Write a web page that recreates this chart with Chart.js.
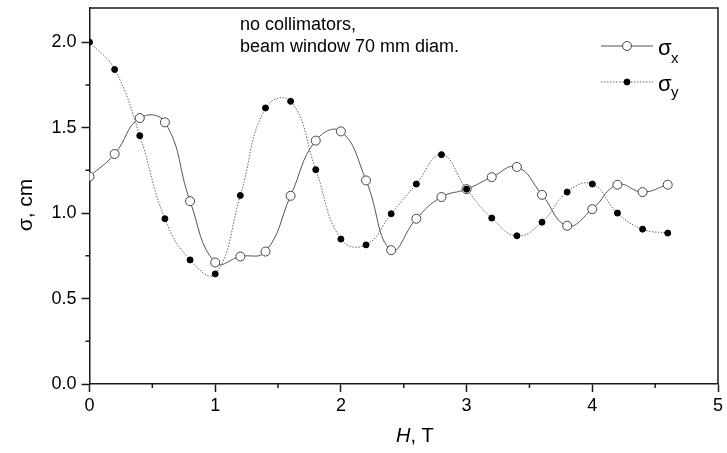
<!DOCTYPE html>
<html>
<head>
<meta charset="utf-8">
<script src="https://cdn.jsdelivr.net/npm/chart.js@4.4.0/dist/chart.umd.min.js"></script>
<style>
    html, body { margin: 0; padding: 0; background: #fff; }
    #wrap { width: 727px; height: 453px; }
</style>
</head>
<body>
<div id="wrap"><canvas id="chart" width="727" height="453"></canvas></div>
<script>
// field H, T
const fieldH = [0, 0.2, 0.4, 0.6, 0.8, 1.0, 1.2, 1.4, 1.6, 1.8, 2.0, 2.2, 2.4, 2.6, 2.8, 3.0, 3.2, 3.4, 3.6, 3.8, 4.0, 4.2, 4.4, 4.6];
// beam size, cm
const sigmaX = [1.214, 1.346, 1.556, 1.531, 1.07, 0.711, 0.746, 0.775, 1.101, 1.424, 1.478, 1.191, 0.783, 0.967, 1.094, 1.14, 1.21, 1.27, 1.107, 0.926, 1.023, 1.166, 1.123, 1.166];
const sigmaY = [2.0, 1.84, 1.453, 0.967, 0.726, 0.644, 1.103, 1.615, 1.654, 1.254, 0.848, 0.814, 0.996, 1.17, 1.342, 1.14, 0.971, 0.867, 0.947, 1.123, 1.17, 1.0, 0.906, 0.883];

const xTicks = [0, 1, 2, 3, 4, 5];
const xMinorTicks = [0.5, 1.5, 2.5, 3.5, 4.5];
const yTicks = [0, 0.5, 1.0, 1.5, 2.0];
const yMinorTicks = [0.25, 0.75, 1.25, 1.75];
const noteLines = ['no collimators,', 'beam window 70 mm diam.'];

const FONT = '"Liberation Sans", Arial, sans-serif';
const AXIS_COLOR = '#1a1a1a';

/**
 * Rama de sus/dreapta, ticuri minore, titluri, nota si legenda.
 */
const decorPlugin = {
    id: 'decor',
    afterDraw(chart) {
        const { ctx, chartArea: a, scales: { x, y } } = chart;
        ctx.save();

        // frame
        ctx.strokeStyle = AXIS_COLOR;
        ctx.lineWidth = 1.5;
        ctx.beginPath();
        ctx.moveTo(a.left, a.top);
        ctx.lineTo(a.right, a.top);
        ctx.lineTo(a.right, a.bottom);
        ctx.stroke();

        // minor ticks
        ctx.beginPath();
        xMinorTicks.forEach(v => {
            const px = x.getPixelForValue(v);
            ctx.moveTo(px, a.bottom);
            ctx.lineTo(px, a.bottom + 4);
        });
        yMinorTicks.forEach(v => {
            const py = y.getPixelForValue(v);
            ctx.moveTo(a.left, py);
            ctx.lineTo(a.left - 4, py);
        });
        ctx.stroke();

        ctx.fillStyle = '#000';
        ctx.textBaseline = 'alphabetic';

        // x title: H italic, ", T"
        ctx.textAlign = 'left';
        ctx.font = 'italic 20px ' + FONT;
        const hW = ctx.measureText('H').width;
        ctx.fillText('H', 396, 442);
        ctx.font = '20px ' + FONT;
        ctx.fillText(', T', 396 + hW, 442);

        // y title
        ctx.save();
        ctx.translate(32, 205);
        ctx.rotate(-Math.PI / 2);
        ctx.textAlign = 'center';
        ctx.font = '21px ' + FONT;
        ctx.fillText('σ, cm', 0, 0);
        ctx.restore();

        // note
        ctx.font = '18px ' + FONT;
        ctx.fillText(noteLines[0], 240, 30);
        ctx.fillText(noteLines[1], 240, 52);

        // legend
        const rows = [
            { ds: chart.data.datasets[0], y: 46, sub: 'x', subBase: 63 },
            { ds: chart.data.datasets[1], y: 82, sub: 'y', subBase: 97 }
        ];
        rows.forEach(row => {
            const ds = row.ds;
            ctx.strokeStyle = ds.borderColor;
            ctx.lineWidth = ds.borderWidth;
            ctx.setLineDash(ds.borderDash || []);
            ctx.beginPath();
            ctx.moveTo(601, row.y);
            ctx.lineTo(653, row.y);
            ctx.stroke();
            ctx.setLineDash([]);
            ctx.beginPath();
            ctx.arc(627, row.y, ds.pointRadius, 0, Math.PI * 2);
            ctx.fillStyle = ds.pointBackgroundColor;
            ctx.fill();
            ctx.strokeStyle = ds.pointBorderColor;
            ctx.lineWidth = 1;
            ctx.stroke();

            ctx.fillStyle = '#000';
            ctx.font = '22px ' + FONT;
            ctx.fillText('σ', 658, row.y + 9);
            ctx.font = '15px ' + FONT;
            ctx.fillText(row.sub, 671, row.subBase);
        });

        ctx.restore();
    }
};

new Chart(document.getElementById('chart'), {
    type: 'line',
    data: {
        labels: fieldH,
        datasets: [{
            label: 'σx',
            data: fieldH.map((h, i) => ({ x: h, y: sigmaX[i] })),
            borderColor: '#555',
            borderWidth: 1,
            tension: 0.45,
            pointRadius: 4.5,
            pointBackgroundColor: '#fff',
            pointBorderColor: '#444',
            pointBorderWidth: 1,
            order: 1
        }, {
            label: 'σy',
            data: fieldH.map((h, i) => ({ x: h, y: sigmaY[i] })),
            borderColor: '#666',
            borderWidth: 1,
            borderDash: [1.5, 1.5],
            tension: 0.45,
            pointRadius: 3,
            pointBackgroundColor: '#000',
            pointBorderColor: '#000',
            pointBorderWidth: 1,
            order: 0
        }]
    },
    options: {
        responsive: false,
        animation: false,
        layout: { padding: { top: 8, right: 9, left: 0, bottom: 0 } },
        plugins: {
            legend: { display: false },
            tooltip: { enabled: false }
        },
        scales: {
            x: {
                type: 'linear',
                min: 0,
                max: 5,
                afterBuildTicks: scale => { scale.ticks = xTicks.map(v => ({ value: v })); },
                afterFit: scale => { scale.height = 69; },
                border: { display: true, color: AXIS_COLOR, width: 1.5 },
                grid: { drawOnChartArea: false, drawTicks: true, tickLength: 8, color: AXIS_COLOR, tickWidth: 1.5 },
                ticks: {
                    color: '#000',
                    padding: 3,
                    maxRotation: 0,
                    font: { family: FONT, size: 18 },
                    callback: v => String(v)
                }
            },
            y: {
                min: 0,
                max: 2.2,
                afterBuildTicks: scale => { scale.ticks = yTicks.map(v => ({ value: v })); },
                afterFit: scale => {
                    scale.width = 89.5;
                    scale.paddingTop = 0;
                    scale.paddingBottom = 0;
                },
                border: { display: true, color: AXIS_COLOR, width: 1.5 },
                grid: { drawOnChartArea: false, drawTicks: true, tickLength: 8, color: AXIS_COLOR, tickWidth: 1.5 },
                ticks: {
                    color: '#000',
                    padding: 5,
                    font: { family: FONT, size: 18 },
                    callback: v => Number(v).toFixed(1)
                }
            }
        }
    },
    plugins: [decorPlugin]
});
</script>
</body>
</html>
